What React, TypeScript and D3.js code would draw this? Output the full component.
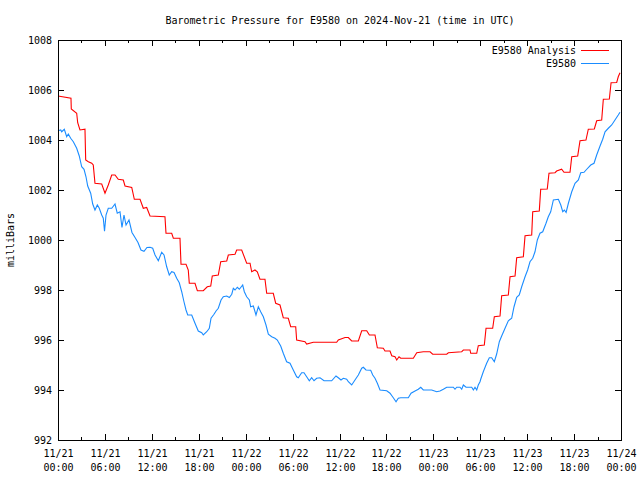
import React, { useEffect } from "react";
import * as d3 from "d3";

const TITLE = "Barometric Pressure for E9580 on 2024-Nov-21 (time in UTC)";
const Y_LABEL = "milliBars";
const START = Date.UTC(2024, 10, 21, 0, 0);
const Y_TICKS = [992, 994, 996, 998, 1000, 1002, 1004, 1006, 1008];
const X_TICK_HOURS = [0, 6, 12, 18, 24, 30, 36, 42, 48, 54, 60, 66, 72];
const X_MINOR_HOURS = [3, 9, 15, 21, 27, 33, 39, 45, 51, 57, 63, 69];
const X_TICK_LINE1 = ["11/21", "11/21", "11/21", "11/21", "11/22", "11/22", "11/22", "11/22", "11/23", "11/23", "11/23", "11/23", "11/24"];
const X_TICK_LINE2 = ["00:00", "06:00", "12:00", "18:00", "00:00", "06:00", "12:00", "18:00", "00:00", "06:00", "12:00", "18:00", "00:00"];
const SERIES_NAMES = ["E9580 Analysis", "E9580"];

// hours since start, value (mb)
const analysisHours = [0, 1.66, 1.7, 2.39, 2.52, 2.81, 3.45, 3.54, 3.88, 4.31, 4.51, 4.73, 5.59, 6.01, 6.43, 6.87, 7.29, 7.71, 8.35, 8.57, 9.43, 9.76, 10.49, 10.91, 11.34, 11.77, 13.68, 13.81, 14.54, 14.75, 15.6, 15.73, 16.37, 16.66, 16.79, 17.52, 17.82, 18.58, 19.09, 19.53, 19.73, 20.5, 20.81, 21.58, 21.78, 22.64, 22.85, 23.49, 24.13, 24.56, 24.77, 25.19, 25.49, 25.83, 26.47, 26.69, 27.53, 27.84, 28.39, 28.81, 29.45, 29.76, 30.4, 30.52, 31.59, 31.8, 32.65, 35.64, 35.85, 36.71, 37.13, 37.56, 38.41, 38.84, 39.48, 39.82, 40.54, 40.84, 41.6, 41.82, 42.46, 42.68, 43.1, 43.32, 43.61, 43.83, 45.44, 45.88, 46.72, 47.58, 47.92, 49.71, 49.92, 51.63, 51.84, 52.69, 52.78, 53.55, 53.75, 54.52, 54.74, 55.59, 55.8, 56.53, 56.74, 57.59, 57.81, 58.45, 58.66, 59.51, 59.73, 60.58, 60.71, 61.55, 61.73, 62.57, 62.79, 63.56, 63.77, 64.41, 64.71, 65.48, 65.7, 66.46, 66.76, 67.52, 67.82, 68.59, 68.89, 69.53, 69.74, 70.51, 70.73, 71.45, 71.65, 71.87];
const analysisValues = [1005.76, 1005.67, 1005.24, 1005.07, 1004.69, 1004.4, 1004.43, 1003.2, 1003.13, 1003.07, 1003.0, 1002.27, 1002.24, 1001.87, 1002.2, 1002.6, 1002.6, 1002.43, 1002.4, 1002.16, 1002.1, 1001.63, 1001.63, 1001.27, 1001.3, 1000.96, 1000.93, 1000.27, 1000.27, 1000.07, 1000.07, 999.03, 999.03, 998.8, 998.27, 998.27, 997.97, 997.97, 998.13, 998.16, 998.56, 998.6, 999.13, 999.16, 999.4, 999.43, 999.6, 999.6, 999.07, 999.07, 998.73, 998.8, 998.73, 998.43, 998.43, 997.87, 997.87, 997.47, 997.4, 996.89, 996.87, 996.53, 996.53, 996.0, 995.93, 995.84, 995.91, 995.91, 996.0, 996.1, 996.1, 995.96, 995.96, 996.37, 996.37, 996.2, 996.2, 995.69, 995.67, 995.56, 995.56, 995.37, 995.33, 995.2, 995.33, 995.27, 995.27, 995.49, 995.53, 995.53, 995.43, 995.43, 995.49, 995.53, 995.6, 995.6, 995.47, 995.47, 995.77, 995.8, 996.47, 996.47, 996.93, 996.96, 997.77, 997.8, 998.53, 998.56, 999.29, 999.33, 1000.17, 1000.2, 1001.13, 1001.16, 1002.03, 1002.04, 1002.67, 1002.69, 1002.76, 1002.83, 1002.71, 1002.71, 1003.33, 1003.36, 1003.97, 1004.0, 1004.43, 1004.44, 1004.77, 1004.8, 1005.63, 1005.64, 1006.29, 1006.3, 1006.53, 1006.69];

const stationHours = [0, 0.35, 0.47, 0.81, 1.11, 1.32, 1.62, 1.96, 2.39, 2.72, 3.03, 3.33, 3.58, 3.8, 4.18, 4.44, 4.73, 5.03, 5.28, 5.59, 5.79, 5.95, 6.14, 6.43, 6.87, 7.29, 7.58, 7.93, 8.18, 8.44, 8.7, 9.08, 9.46, 9.85, 10.23, 10.61, 11.0, 11.38, 11.77, 12.11, 12.41, 12.83, 13.26, 13.56, 13.9, 14.23, 14.54, 14.84, 15.18, 15.51, 15.82, 16.11, 16.37, 16.59, 17.1, 17.52, 17.94, 18.38, 18.58, 19.02, 19.35, 19.57, 19.95, 20.21, 20.5, 20.85, 21.14, 21.58, 21.91, 22.22, 22.42, 22.64, 22.93, 23.19, 23.62, 23.83, 24.13, 24.47, 24.64, 24.98, 25.32, 25.62, 25.92, 26.26, 26.6, 26.9, 27.33, 27.75, 28.05, 28.17, 28.48, 28.81, 29.24, 29.67, 30.09, 30.52, 30.73, 31.16, 31.46, 31.8, 32.14, 32.44, 32.74, 33.08, 33.51, 34.02, 35.0, 35.55, 35.85, 36.19, 36.49, 36.92, 37.13, 37.56, 37.98, 38.41, 38.84, 39.05, 39.39, 39.99, 40.25, 40.54, 40.84, 41.18, 42.04, 42.46, 42.88, 43.23, 43.52, 43.83, 44.8, 45.15, 45.66, 46.08, 46.39, 46.72, 47.79, 48.43, 48.85, 49.28, 49.71, 50.56, 50.77, 50.99, 51.41, 51.63, 51.84, 52.18, 52.91, 53.12, 53.33, 53.55, 53.75, 53.97, 54.06, 54.39, 54.82, 55.16, 55.46, 55.8, 56.1, 56.44, 56.74, 57.17, 57.59, 58.02, 58.32, 58.66, 58.99, 59.3, 59.73, 60.06, 60.36, 60.71, 61.0, 61.3, 61.64, 61.99, 62.41, 62.7, 63.01, 63.35, 63.99, 64.3, 64.55, 64.76, 64.98, 65.27, 65.7, 66.12, 66.55, 66.85, 67.27, 67.62, 68.13, 68.55, 68.89, 69.32, 69.66, 69.96, 70.38, 70.81, 71.23, 71.65, 71.87];
const stationValues = [1004.37, 1004.4, 1004.33, 1004.43, 1004.13, 1004.24, 1004.07, 1003.93, 1003.67, 1003.36, 1002.93, 1002.83, 1002.53, 1002.16, 1001.87, 1001.44, 1001.2, 1001.4, 1001.27, 1001.0, 1000.87, 1000.35, 1001.0, 1001.27, 1001.27, 1001.44, 1001.07, 1001.13, 1000.5, 1001.0, 1000.6, 1000.8, 1000.3, 1000.1, 999.9, 999.6, 999.55, 999.7, 999.71, 999.67, 999.4, 999.17, 999.51, 999.4, 998.93, 998.6, 998.73, 998.7, 998.47, 998.29, 997.93, 997.53, 997.2, 997.0, 997.0, 996.67, 996.36, 996.29, 996.2, 996.33, 996.47, 996.87, 997.03, 997.16, 997.27, 997.6, 997.73, 997.76, 997.7, 997.83, 998.07, 998.0, 998.11, 998.03, 998.2, 997.93, 997.73, 997.6, 997.33, 997.36, 997.0, 997.33, 997.13, 996.93, 996.6, 996.23, 996.13, 996.07, 996.0, 995.93, 995.76, 995.47, 995.13, 995.07, 994.8, 994.53, 994.49, 994.69, 994.69, 994.53, 994.37, 994.49, 994.37, 994.47, 994.49, 994.37, 994.37, 994.56, 994.49, 994.4, 994.47, 994.43, 994.33, 994.2, 994.4, 994.6, 994.87, 994.91, 994.8, 994.79, 994.6, 994.47, 994.27, 994.0, 993.97, 993.87, 993.69, 993.53, 993.67, 993.69, 993.69, 993.87, 993.96, 994.03, 994.11, 994.0, 994.0, 993.93, 993.96, 994.03, 994.11, 994.11, 994.03, 994.11, 994.11, 994.03, 994.2, 994.11, 994.11, 994.0, 994.11, 994.0, 994.2, 994.33, 994.43, 994.73, 995.07, 995.29, 995.29, 995.13, 995.44, 995.93, 996.16, 996.47, 996.77, 996.87, 997.33, 997.71, 997.8, 998.13, 998.53, 998.8, 999.13, 999.27, 999.53, 1000.0, 1000.27, 1000.33, 1000.67, 1000.93, 1001.13, 1001.6, 1001.63, 1001.4, 1001.13, 1001.2, 1001.1, 1001.47, 1001.93, 1002.27, 1002.4, 1002.69, 1002.71, 1002.83, 1003.0, 1003.07, 1003.4, 1003.76, 1004.03, 1004.33, 1004.47, 1004.6, 1004.8, 1005.0, 1005.11];

const W = 640, H = 480;
const L = 58, R = 621, T = 40, B = 440;
const FONT = "'DejaVu Sans Mono', 'Liberation Mono', monospace";
const RED = "#ff0000";
const BLUE = "#1a8cff";

const toDate = (h: number) => new Date(START + h * 3600 * 1000);

export default function App() {
  useEffect(() => {
    document.body.style.margin = "0";
  }, []);

  const x = d3.scaleUtc().domain([toDate(0), toDate(72)]).range([L, R]);
  const y = d3.scaleLinear().domain([992, 1008]).range([B, T]);

  const line = d3
    .line<[number, number]>()
    .x((d) => x(toDate(d[0])))
    .y((d) => y(d[1]));

  const analysis: [number, number][] = analysisHours.map((h, i) => [h, analysisValues[i]]);
  const station: [number, number][] = stationHours.map((h, i) => [h, stationValues[i]]);

  const tickColor = "#000";

  return (
    <svg width={W} height={H} style={{ display: "block", background: "#fff" }} fontFamily={FONT} fontSize={10}>
      <rect x={0} y={0} width={W} height={H} fill="#fff" />
      <text x={340} y={24} textAnchor="middle" fill="#000">{TITLE}</text>
      <text transform={`translate(14,${(T + B) / 2}) rotate(-90)`} textAnchor="middle" fill="#000">{Y_LABEL}</text>

      {Y_TICKS.map((v) => (
        <g key={v}>
          <line x1={L} x2={L + 6} y1={Math.round(y(v)) + 0.5} y2={Math.round(y(v)) + 0.5} stroke={tickColor} />
          <line x1={R} x2={R - 6} y1={Math.round(y(v)) + 0.5} y2={Math.round(y(v)) + 0.5} stroke={tickColor} />
          <text x={52} y={y(v) + 4} textAnchor="end" fill="#000">{v}</text>
        </g>
      ))}

      {X_TICK_HOURS.map((h, i) => {
        const px = Math.round(x(toDate(h))) + 0.5;
        return (
          <g key={h}>
            <line x1={px} x2={px} y1={B} y2={B - 6} stroke={tickColor} />
            <line x1={px} x2={px} y1={T} y2={T + 6} stroke={tickColor} />
            <text x={px} y={457} textAnchor="middle" fill="#000">{X_TICK_LINE1[i]}</text>
            <text x={px} y={471} textAnchor="middle" fill="#000">{X_TICK_LINE2[i]}</text>
          </g>
        );
      })}
      {X_MINOR_HOURS.map((h) => {
        const px = Math.round(x(toDate(h))) + 0.5;
        return (
          <g key={h}>
            <line x1={px} x2={px} y1={B} y2={B - 3} stroke={tickColor} />
            <line x1={px} x2={px} y1={T} y2={T + 3} stroke={tickColor} />
          </g>
        );
      })}

      <path d={line(analysis) || ""} fill="none" stroke={RED} strokeWidth={1.1} />
      <path d={line(station) || ""} fill="none" stroke={BLUE} strokeWidth={1.1} />

      <rect x={L + 0.5} y={T + 0.5} width={R - L} height={B - T} fill="none" stroke="#000" />

      <text x={576} y={54} textAnchor="end" fill="#000">{SERIES_NAMES[0]}</text>
      <line x1={581} x2={609} y1={50.5} y2={50.5} stroke={RED} />
      <text x={576} y={67} textAnchor="end" fill="#000">{SERIES_NAMES[1]}</text>
      <line x1={581} x2={609} y1={63.5} y2={63.5} stroke={BLUE} />
    </svg>
  );
}
